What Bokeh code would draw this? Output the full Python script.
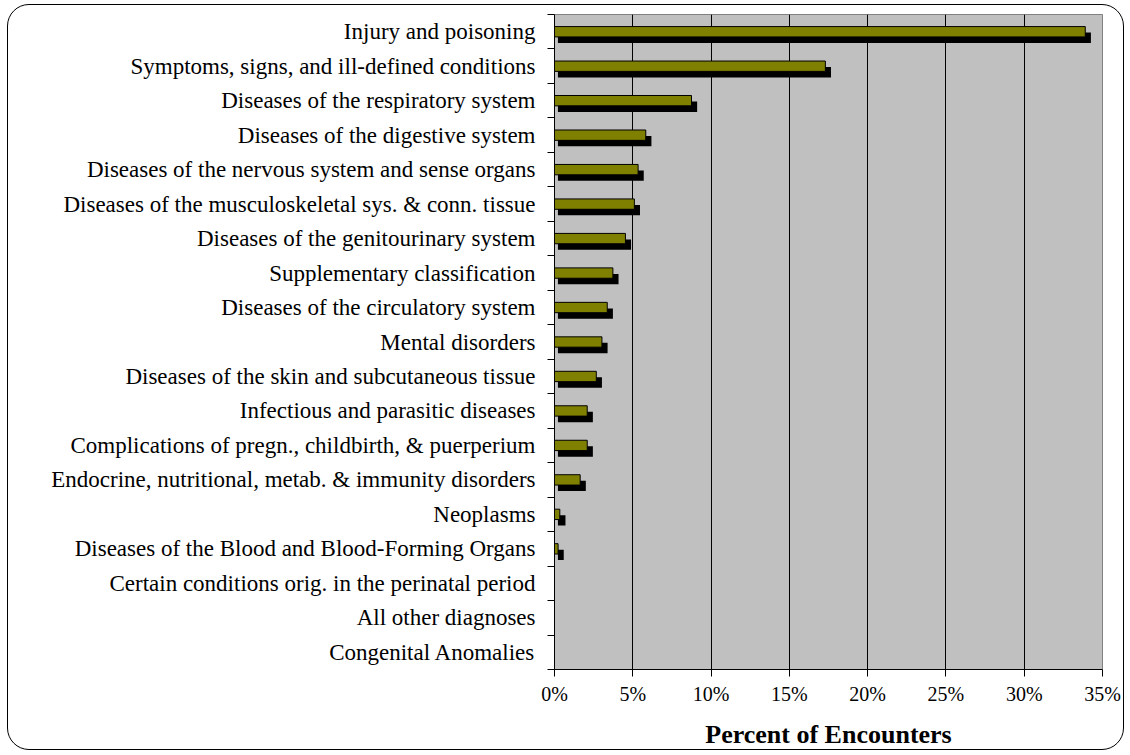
from bokeh.plotting import figure
from bokeh.models import Range1d, FixedTicker, PrintfTickFormatter, ColumnDataSource
from bokeh.transform import dodge
from bokeh.embed import file_html
from bokeh.resources import INLINE

categories = [
    "Injury and poisoning",
    "Symptoms, signs, and ill-defined conditions",
    "Diseases of the respiratory system",
    "Diseases of the digestive system",
    "Diseases of the nervous system and sense organs",
    "Diseases of the musculoskeletal sys. & conn. tissue",
    "Diseases of the genitourinary system",
    "Supplementary classification",
    "Diseases of the circulatory system",
    "Mental disorders",
    "Diseases of the skin and subcutaneous tissue",
    "Infectious and parasitic diseases",
    "Complications of pregn., childbirth, & puerperium",
    "Endocrine, nutritional, metab. & immunity disorders",
    "Neoplasms",
    "Diseases of the Blood and Blood-Forming Organs",
    "Certain conditions orig. in the perinatal period",
    "All other diagnoses",
    "Congenital Anomalies",
]
percent = [33.9, 17.3, 8.75, 5.83, 5.34, 5.1, 4.53, 3.73, 3.37, 3.03,
           2.67, 2.09, 2.09, 1.64, 0.34, 0.23, 0.0, 0.0, 0.0]
x_ticks = [0, 5, 10, 15, 20, 25, 30, 35]
x_title = "Percent of Encounters"

n = len(categories)
pos = [float(n - 1 - i) for i in range(n)]
boundaries = [k - 0.5 for k in range(n + 1)]

src = ColumnDataSource(dict(pos=pos, val=percent, start=[0.0] * n))
shadow_idx = [i for i in range(n) if percent[i] > 0]
shadow_src = ColumnDataSource(dict(
    pos=[pos[i] for i in shadow_idx],
    val=[percent[i] for i in shadow_idx],
    start=[0.0 for _ in shadow_idx],
))

FONT = "Liberation Serif"

p = figure(width=1117, height=746, output_backend="svg", toolbar_location=None,
           x_range=Range1d(x_ticks[0], x_ticks[-1]),
           y_range=Range1d(-0.5, n - 0.5),
           min_border_left=546, min_border_right=23, min_border_top=9,
           min_border_bottom=82)

p.styles = {"border": "1px solid black", "border-radius": "22px",
            "margin-left": "7px", "margin-top": "4px"}
p.border_fill_color = None
p.background_fill_color = "#C0C0C0"
p.outline_line_color = "#808080"
p.outline_line_width = 1

# shadow bars
p.hbar(y=dodge("pos", -0.175), left=dodge("start", 0.22), right=dodge("val", 0.36),
       height=0.3, source=shadow_src, fill_color="black", line_color=None)
# main bars
p.hbar(y="pos", left="start", right="val", height=0.3, source=src,
       fill_color="#808000", line_color="black", line_width=1)

# x axis
p.xaxis.ticker = FixedTicker(ticks=x_ticks)
p.xaxis.formatter = PrintfTickFormatter(format="%d%%")
p.xaxis.major_tick_out = 7
p.xaxis.major_tick_in = 0
p.xaxis.minor_tick_line_color = None
p.xaxis.axis_line_color = "black"
p.xaxis.major_tick_line_color = "black"
p.xaxis.major_label_text_font = FONT
p.xaxis.major_label_text_font_size = "20px"
p.xaxis.major_label_text_color = "black"
p.xaxis.major_label_standoff = 6
p.xaxis.axis_label = x_title
p.xaxis.axis_label_text_font = FONT
p.xaxis.axis_label_text_font_style = "bold"
p.xaxis.axis_label_text_font_size = "26px"
p.xaxis.axis_label_text_color = "black"
p.xaxis.axis_label_standoff = 12

# y axis
p.yaxis.ticker = FixedTicker(ticks=pos, minor_ticks=boundaries)
p.yaxis.major_label_overrides = {pp: c for pp, c in zip(pos, categories)}
p.yaxis.major_tick_line_color = None
p.yaxis.major_tick_out = 0
p.yaxis.major_tick_in = 0
p.yaxis.minor_tick_out = 7
p.yaxis.minor_tick_in = 0
p.yaxis.minor_tick_line_color = "black"
p.yaxis.axis_line_color = "black"
p.yaxis.major_label_text_font = FONT
p.yaxis.major_label_text_font_size = "23px"
p.yaxis.major_label_text_color = "black"
p.yaxis.major_label_standoff = 12

p.xgrid.ticker = FixedTicker(ticks=x_ticks)
p.xgrid.grid_line_color = "black"
p.xgrid.grid_line_width = 1
p.ygrid.grid_line_color = None

open("out.html", "w").write(file_html(p, INLINE))
